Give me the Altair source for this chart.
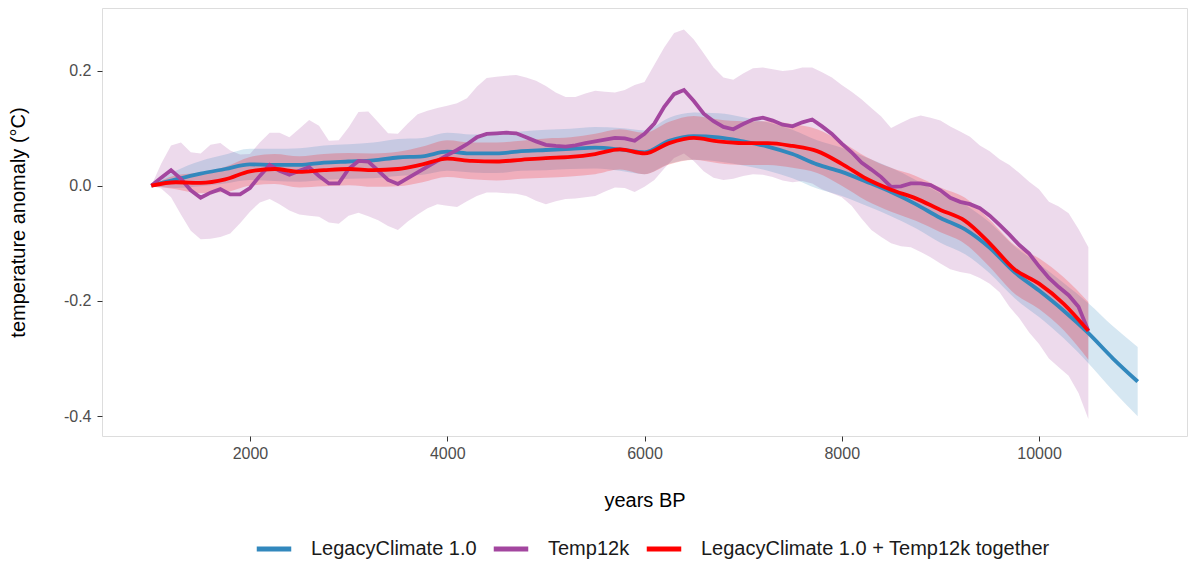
import altair as alt
import pandas as pd

S_LEG = "LegacyClimate 1.0"
S_T12 = "Temp12k"
S_CMB = "LegacyClimate 1.0 + Temp12k together"
SERIES = [S_LEG, S_T12, S_CMB]
COLORS = ["#3288BD", "#A3469F", "#FF0000"]

# Temp12k (every 100 years)
T_YEARS = list(range(1000, 10501, 100))
T_MEAN = [0.000, 0.014, 0.027, 0.012, -0.008, -0.021, -0.012, -0.006, -0.015, -0.015,
          -0.004, 0.017, 0.036, 0.026, 0.019, 0.026, 0.032, 0.017, 0.004, 0.004,
          0.029, 0.043, 0.042, 0.026, 0.010, 0.003, 0.013, 0.023, 0.033, 0.043,
          0.053, 0.062, 0.072, 0.084, 0.090, 0.091, 0.092, 0.091, 0.084, 0.077,
          0.071, 0.069, 0.068, 0.070, 0.074, 0.077, 0.080, 0.083, 0.082, 0.078,
          0.090, 0.108, 0.137, 0.159, 0.166, 0.147, 0.125, 0.112, 0.102, 0.098,
          0.107, 0.115, 0.118, 0.113, 0.106, 0.103, 0.110, 0.115, 0.103, 0.090,
          0.073, 0.058, 0.040, 0.028, 0.015, -0.002, -0.001, 0.004, 0.004, 0.001,
          -0.008, -0.021, -0.028, -0.032, -0.039, -0.052, -0.068, -0.085, -0.103, -0.118,
          -0.140, -0.160, -0.176, -0.190, -0.210, -0.252]
T_LO = [0.000, -0.005, -0.020, -0.050, -0.078, -0.093, -0.092, -0.089, -0.083, -0.065,
        -0.045, -0.029, -0.023, -0.032, -0.043, -0.050, -0.052, -0.054, -0.064, -0.066,
        -0.052, -0.047, -0.053, -0.060, -0.070, -0.077, -0.062, -0.050, -0.039, -0.032,
        -0.035, -0.037, -0.027, -0.018, -0.012, -0.012, -0.013, -0.014, -0.018, -0.026,
        -0.032, -0.027, -0.023, -0.022, -0.020, -0.018, -0.010, -0.003, -0.004, -0.011,
        -0.002, 0.010, 0.030, 0.048, 0.056, 0.043, 0.025, 0.014, 0.010, 0.012,
        0.017, 0.020, 0.019, 0.015, 0.009, 0.006, 0.008, 0.004, -0.006, -0.013,
        -0.020, -0.035, -0.057, -0.077, -0.089, -0.100, -0.105, -0.107, -0.115, -0.124,
        -0.135, -0.145, -0.150, -0.153, -0.160, -0.170, -0.185, -0.210, -0.230, -0.255,
        -0.275, -0.300, -0.315, -0.330, -0.360, -0.405]
T_HI = [0.000, 0.038, 0.070, 0.075, 0.058, 0.056, 0.071, 0.074, 0.061, 0.054,
        0.055, 0.075, 0.092, 0.092, 0.084, 0.099, 0.114, 0.104, 0.078, 0.079,
        0.101, 0.128, 0.129, 0.110, 0.091, 0.090, 0.108, 0.124, 0.130, 0.135,
        0.139, 0.143, 0.152, 0.172, 0.187, 0.189, 0.191, 0.192, 0.188, 0.182,
        0.173, 0.162, 0.154, 0.154, 0.160, 0.165, 0.163, 0.162, 0.166, 0.175,
        0.180, 0.210, 0.240, 0.265, 0.271, 0.254, 0.230, 0.205, 0.188, 0.184,
        0.195, 0.204, 0.205, 0.202, 0.199, 0.201, 0.205, 0.205, 0.197, 0.188,
        0.175, 0.163, 0.150, 0.135, 0.120, 0.100, 0.109, 0.117, 0.122, 0.118,
        0.113, 0.103, 0.094, 0.085, 0.070, 0.060, 0.046, 0.036, 0.022, 0.007,
        -0.006, -0.028, -0.036, -0.048, -0.075, -0.107]

# LegacyClimate 1.0 (every 250 years)
L_YEARS = list(range(1000, 11001, 250))
L_MEAN = [0.000, 0.011, 0.021, 0.029, 0.037, 0.036, 0.036, 0.040, 0.042, 0.044,
          0.049, 0.051, 0.059, 0.056, 0.056, 0.060, 0.062, 0.064, 0.066, 0.063,
          0.058, 0.078, 0.086, 0.084, 0.077, 0.068, 0.055, 0.037, 0.024, 0.007,
          -0.011, -0.032, -0.056, -0.076, -0.108, -0.150, -0.182, -0.217, -0.256, -0.300,
          -0.340]
L_LO = [0.000, -0.004, -0.001, 0.004, 0.010, 0.008, 0.007, 0.010, 0.012, 0.013,
        0.017, 0.019, 0.026, 0.023, 0.022, 0.026, 0.027, 0.029, 0.030, 0.026,
        0.020, 0.038, 0.045, 0.042, 0.035, 0.026, 0.013, -0.005, -0.018, -0.035,
        -0.053, -0.074, -0.099, -0.119, -0.152, -0.195, -0.228, -0.265, -0.308, -0.356,
        -0.400]
L_HI = [0.000, 0.026, 0.043, 0.054, 0.064, 0.064, 0.065, 0.070, 0.072, 0.075,
        0.081, 0.083, 0.092, 0.089, 0.090, 0.094, 0.097, 0.099, 0.102, 0.100,
        0.096, 0.118, 0.127, 0.126, 0.119, 0.110, 0.097, 0.079, 0.066, 0.049,
        0.031, 0.010, -0.013, -0.033, -0.064, -0.105, -0.136, -0.169, -0.204, -0.244,
        -0.280]

# LegacyClimate 1.0 + Temp12k together (every 250 years)
C_YEARS = list(range(1000, 10501, 250))
C_MEAN = [0.000, 0.006, 0.005, 0.011, 0.025, 0.029, 0.024, 0.027, 0.029, 0.027,
          0.029, 0.037, 0.047, 0.043, 0.042, 0.045, 0.048, 0.050, 0.055, 0.063,
          0.056, 0.074, 0.083, 0.077, 0.074, 0.074, 0.069, 0.060, 0.038, 0.012,
          -0.007, -0.022, -0.042, -0.061, -0.100, -0.145, -0.170, -0.205, -0.252]
C_LO = [0.000, -0.006, -0.013, -0.011, 0.000, 0.003, -0.003, -0.001, 0.001, -0.002,
        -0.001, 0.006, 0.015, 0.011, 0.009, 0.012, 0.014, 0.016, 0.020, 0.028,
        0.020, 0.037, 0.045, 0.039, 0.036, 0.036, 0.031, 0.022, 0.000, -0.026,
        -0.045, -0.061, -0.081, -0.101, -0.141, -0.187, -0.214, -0.251, -0.302]
C_HI = [0.000, 0.018, 0.023, 0.033, 0.050, 0.055, 0.051, 0.055, 0.057, 0.056,
        0.059, 0.068, 0.079, 0.075, 0.075, 0.078, 0.082, 0.084, 0.090, 0.098,
        0.092, 0.111, 0.121, 0.115, 0.112, 0.112, 0.107, 0.098, 0.076, 0.050,
        0.031, 0.017, -0.003, -0.021, -0.059, -0.103, -0.126, -0.159, -0.202]

frames = []
for name, yrs, m, lo, hi in [(S_LEG, L_YEARS, L_MEAN, L_LO, L_HI),
                             (S_T12, T_YEARS, T_MEAN, T_LO, T_HI),
                             (S_CMB, C_YEARS, C_MEAN, C_LO, C_HI)]:
    frames.append(pd.DataFrame({"year": yrs, "mean": m, "lo": lo, "hi": hi, "series": name}))
df = pd.concat(frames, ignore_index=True)

FONT = "Liberation Sans"

x_enc = alt.X("year:Q",
              scale=alt.Scale(domain=[500, 11500], nice=False, zero=False),
              axis=alt.Axis(values=[2000, 4000, 6000, 8000, 10000], format="d",
                            title="years BP", grid=False, domain=False,
                            tickSize=5, tickColor="#333333", labelPadding=4,
                            labelColor="#4D4D4D", labelFontSize=16, labelFont=FONT,
                            titleFontSize=20, titleFont=FONT, titleFontWeight="normal",
                            titleColor="#000000", titlePadding=29))
y_scale = alt.Scale(domain=[-0.4345, 0.3085], nice=False, zero=False)
y_axis = alt.Axis(values=[-0.4, -0.2, 0.0, 0.2],
                  labelExpr="replace(format(datum.value, '.1f'), '\u2212', '-')",
                  title="temperature anomaly (\u00b0C)", grid=False, domain=False,
                  tickSize=5, tickColor="#333333", labelPadding=6,
                  labelColor="#4D4D4D", labelFontSize=16, labelFont=FONT,
                  titleFontSize=20, titleFont=FONT, titleFontWeight="normal",
                  titleColor="#000000", titlePadding=35)

COLOR_OF = dict(zip(SERIES, COLORS))

def band(name, interp):
    return alt.Chart(df).transform_filter(alt.datum.series == name).mark_area(
        opacity=0.2, interpolate=interp, color=COLOR_OF[name]).encode(
        x=x_enc,
        y=alt.Y("lo:Q", scale=y_scale, axis=y_axis),
        y2="hi:Q",
    )

legend = alt.Legend(title=None, orient="none", legendX=152, legendY=521,
                    direction="horizontal", symbolType="stroke", symbolStrokeWidth=5,
                    symbolSize=1190, labelFontSize=20, labelFont=FONT, labelColor="#1A1A1A",
                    labelLimit=0, labelOffset=17, columnPadding=6)

def line(name, interp):
    return alt.Chart(df).transform_filter(alt.datum.series == name).mark_line(
        strokeWidth=3.8, interpolate=interp).encode(
        x=x_enc,
        y=alt.Y("mean:Q", scale=y_scale, axis=y_axis),
        color=alt.Color("series:N", scale=alt.Scale(domain=SERIES, range=COLORS),
                        legend=legend),
    )

chart = alt.layer(
    band(S_T12, "linear"),
    band(S_LEG, "monotone"),
    band(S_CMB, "monotone"),
    line(S_LEG, "monotone"),
    line(S_T12, "linear"),
    line(S_CMB, "monotone"),
).properties(
    width=1085, height=428,
    autosize=alt.AutoSizeParams(type="none"),
    padding={"left": 102, "top": 8, "right": 2, "bottom": 130},
).configure_view(stroke="#333333", strokeWidth=1.2).configure(background="white")

chart.save("out.html", embed_options={"renderer": "svg", "actions": False})
